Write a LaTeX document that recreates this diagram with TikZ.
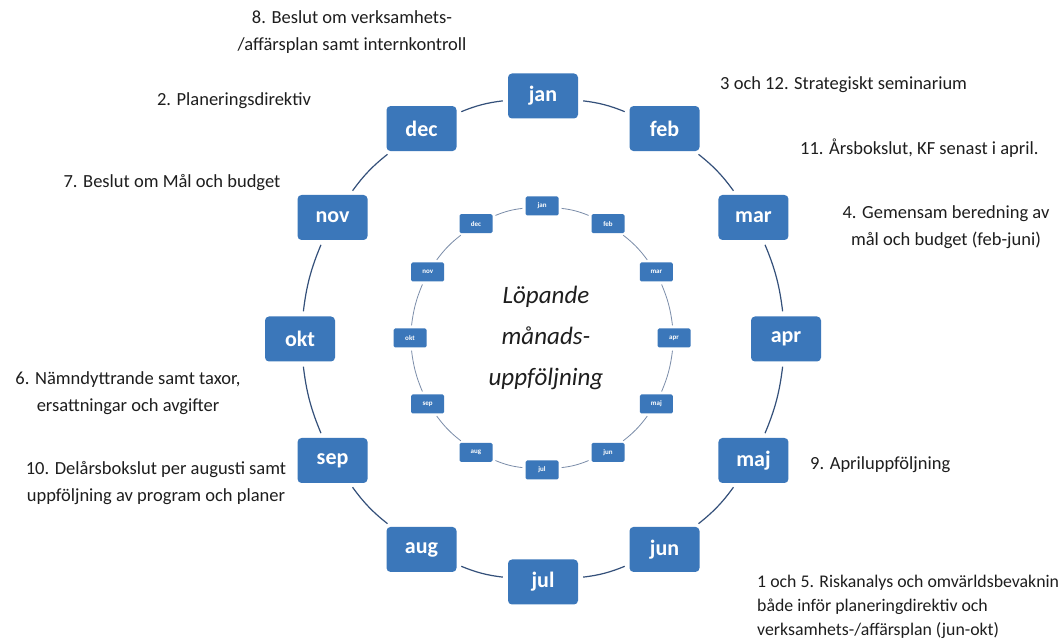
\documentclass[tikz,border=0pt]{standalone}
\usepackage{fontspec}
\setmainfont{Carlito}
\usetikzlibrary{calc}
\definecolor{boxblue}{HTML}{3B77BA}
\definecolor{linecol}{HTML}{34507A}
\definecolor{txt}{HTML}{1E1E1E}
\begin{document}
\begin{tikzpicture}[x=1pt,y=1pt,
 mbox/.style={fill=boxblue, rounded corners=4pt, minimum width=70pt, minimum height=45pt, text=white, font=\fontsize{22}{24}\selectfont\bfseries, inner sep=0pt},
 sbox/.style={fill=boxblue, rounded corners=1.5pt, minimum width=33pt, minimum height=19pt, text=white, font=\fontsize{7}{8}\selectfont\bfseries, inner sep=0pt},
 ring/.style={draw=linecol, line width=1.2pt, shorten >=5pt, shorten <=5pt},
 sring/.style={draw=linecol!65, line width=0.8pt, shorten >=3pt, shorten <=3pt},
 lbl/.style={text=txt, font=\fontsize{18.5}{27}\selectfont, align=center, inner sep=0pt}]
\useasboundingbox (0,0) rectangle (1059,639);
\fill[white] (0,0) rectangle (1059,639);
\coordinate (C) at (543,300);
\coordinate (Cs) at (542,301);
\foreach \m [count=\i from 0] in {jan,feb,mar,apr,maj,jun,jul,aug,sep,okt,nov,dec} {
  \node[mbox] (o\i) at ($(C)+({90-30*\i}:243)$) {\m};
  \node[sbox] (s\i) at ($(Cs)+({90-30*\i}:132)$) {\m};
}
\foreach \i in {0,...,11} {
  \pgfmathtruncatemacro\j{mod(\i+1,12)}
  \draw[ring] (o\i) to[bend left=8] (o\j);
  \draw[sring] (s\i) to[bend left=8] (s\j);
}
\node[text=txt, font=\fontsize{25}{41}\selectfont\itshape, align=center] (ctr) at (546,301) {Löpande\\månads-\\uppföljning};
\node[lbl] (l8) at (352,607) {8. Beslut om verksamhets-\\/affärsplan samt internkontroll};
\node[lbl] (l2) at (234,538) {2. Planeringsdirektiv};
\node[lbl] (l7) at (172,456) {7. Beslut om Mål och budget};
\node[lbl, anchor=west] (l3) at (720,554) {3 och 12. Strategiskt seminarium};
\node[lbl, anchor=west] (l11) at (800,491) {11. Årsbokslut, KF senast i april.};
\node[lbl] (l4) at (946,412) {4. Gemensam beredning av\\mål och budget (feb-juni)};
\node[lbl] (l6) at (128,246) {6. Nämndyttrande samt taxor,\\ersattningar och avgifter};
\node[lbl] (l10) at (156,156) {10. Delårsbokslut per augusti samt\\uppföljning av program och planer};
\node[lbl, anchor=west] (l9) at (810,174) {9. Apriluppföljning};
\node[lbl, anchor=west, align=left, font=\fontsize{17.8}{24}\selectfont] (l1) at (757,32) {1 och 5. Riskanalys och omvärldsbevaknin\\både inför planeringdirektiv och\\verksamhets-/affärsplan (jun-okt)};
\end{tikzpicture}
\end{document}
